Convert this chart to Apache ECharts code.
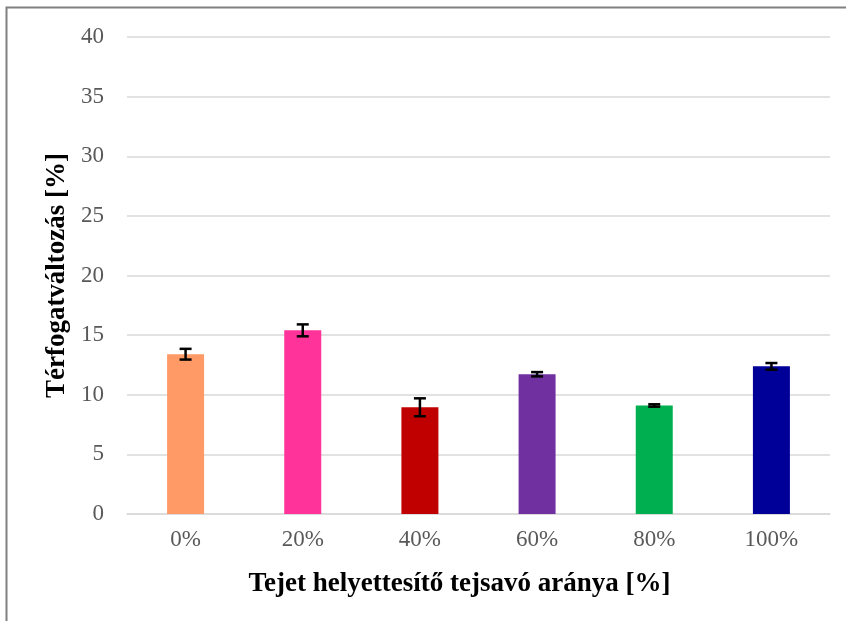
<!DOCTYPE html>
<html><head><meta charset="utf-8">
<script src="https://cdn.jsdelivr.net/npm/echarts@6/dist/echarts.min.js"></script>
<style>html,body{margin:0;padding:0;background:#fff}#c{width:846px;height:621px}</style>
</head><body><div id="c"></div>
<script>
const categories = ['0%', '20%', '40%', '60%', '80%', '100%'];
const values = [13.4, 15.4, 8.95, 11.72, 9.1, 12.38];
const errors = [0.45, 0.5, 0.75, 0.18, 0.1, 0.28];
const colors = ['#FF9966', '#FF3399', '#C00000', '#7030A0', '#00B050', '#000099'];
const yTicks = [0, 5, 10, 15, 20, 25, 30, 35, 40];

const chart = echarts.init(document.getElementById('c'));
const font = '"Liberation Serif", "Times New Roman", serif';
chart.setOption({
  animation: false,
  graphic: [{
    type: 'polyline', silent: true,
    shape: { points: [[6.5, 621], [6.5, 7.5], [846, 7.5]] },
    style: { stroke: '#808080', lineWidth: 2, fill: null }
  }],
  grid: { left: 127, right: 16, top: 37, bottom: 107 },
  xAxis: {
    type: 'category', data: categories,
    axisTick: { show: false },
    axisLine: { lineStyle: { color: '#d9d9d9', width: 1.5 } },
    axisLabel: { color: '#595959', fontFamily: font, fontSize: 23, margin: 14 },
    name: 'Tejet helyettesítő tejsavó aránya [%]', nameLocation: 'middle', nameGap: 57,
    nameTextStyle: { color: '#000', fontFamily: font, fontSize: 27, fontWeight: 'bold', padding: [0, 38, 0, 0] }
  },
  yAxis: {
    type: 'value', min: yTicks[0], max: yTicks[yTicks.length - 1], interval: 5,
    axisLine: { show: false }, axisTick: { show: false },
    splitLine: { lineStyle: { color: '#d9d9d9', width: 1.5 } },
    axisLabel: { color: '#595959', fontFamily: font, fontSize: 23, margin: 23 },
    name: 'Térfogatváltozás [%]', nameLocation: 'middle', nameGap: 50, nameRotate: 90,
    nameTextStyle: { color: '#000', fontFamily: font, fontSize: 27, fontWeight: 'bold' }
  },
  series: [{
    type: 'bar', barWidth: 37,
    data: values.map((v, i) => ({ value: v, itemStyle: { color: colors[i] } }))
  }, {
    type: 'custom',
    data: values.map((v, i) => [i, v - errors[i], v + errors[i]]),
    renderItem: function (params, api) {
      const lo = api.coord([api.value(0), api.value(1)]);
      const hi = api.coord([api.value(0), api.value(2)]);
      const hw = 6;
      const st = { stroke: '#000', lineWidth: 2.5 };
      return { type: 'group', children: [
        { type: 'line', shape: { x1: lo[0], y1: lo[1], x2: hi[0], y2: hi[1] }, style: st },
        { type: 'line', shape: { x1: lo[0] - hw, y1: lo[1], x2: lo[0] + hw, y2: lo[1] }, style: st },
        { type: 'line', shape: { x1: hi[0] - hw, y1: hi[1], x2: hi[0] + hw, y2: hi[1] }, style: st }
      ]};
    },
    z: 10
  }]
});
</script></body></html>
